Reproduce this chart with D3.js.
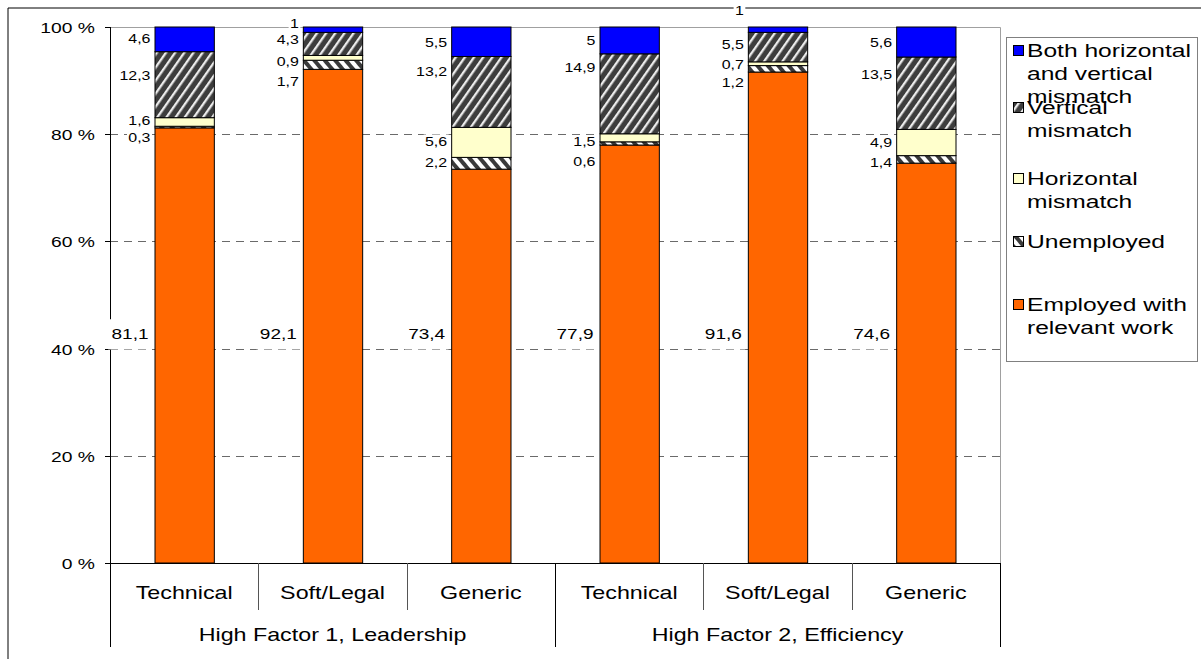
<!DOCTYPE html>
<html>
<head>
<meta charset="utf-8">
<script src="https://cdn.jsdelivr.net/npm/d3@7"></script>
<style>
  body { margin: 0; background: #fff; }
  svg { display: block; }
  text { font-family: "Liberation Sans", Arial, sans-serif; fill: #000; }
</style>
</head>
<body>
<svg id="chart" width="1201" height="659"></svg>
<script>
// ---- data ----
const categories = ["Technical", "Soft/Legal", "Generic", "Technical", "Soft/Legal", "Generic"];
const groups = ["High Factor 1, Leadership", "High Factor 2, Efficiency"];
const employed   = [81.1, 92.1, 73.4, 77.9, 91.6, 74.6];
const unemployed = [0.3, 1.7, 2.2, 0.6, 1.2, 1.4];
const horizontal = [1.6, 0.9, 5.6, 1.5, 0.7, 4.9];
const vertical   = [12.3, 4.3, 13.2, 14.9, 5.5, 13.5];
const both       = [4.6, 1, 5.5, 5, 1, 5.6];
const yTicks = [0, 20, 40, 60, 80, 100];

// ---- layout ----
const W = 1201, H = 659;
const plot = { left: 110, right: 1000, top: 27, bottom: 563 };
const stretch = 1.33;           // horizontal text stretch
const labelNudge = {            // vertical offsets of segment labels, px
  unemployed: [10.5, 17, 0, 18, 14, 3],
  horizontal: [-1, 4, -1, 4, 1, 0],
  vertical:   [-9, -4, -20, -26, -2, -18],
  both:       [-1, -6, 1, 0, -19, 1]
};
const bigLabelY = 334;

const series = [
  { key: "employed",   name: "Employed with relevant work", lines: ["Employed with", "relevant work"], values: employed,   fill: "#FF6600" },
  { key: "unemployed", name: "Unemployed", lines: ["Unemployed"], values: unemployed, fill: "url(#hatchUnemployed)" },
  { key: "horizontal", name: "Horizontal mismatch", lines: ["Horizontal", "mismatch"], values: horizontal, fill: "#FFFFCC" },
  { key: "vertical",   name: "Vertical mismatch", lines: ["Vertical", "mismatch"], values: vertical,   fill: "url(#hatchVertical)" },
  { key: "both",       name: "Both horizontal and vertical mismatch", lines: ["Both horizontal", "and vertical", "mismatch"], values: both, fill: "#0000FF" }
];

const rows = categories.map((c, i) => {
  const r = { idx: i };
  series.forEach(s => r[s.key] = s.values[i]);
  return r;
});

const svg = d3.select("#chart");

// patterns
const defs = svg.append("defs");
const pv = defs.append("pattern").attr("id", "hatchVertical")
  .attr("patternUnits", "userSpaceOnUse").attr("width", 7.5).attr("height", 7.5)
  .attr("patternTransform", "rotate(35)");
pv.append("rect").attr("width", 7.5).attr("height", 7.5).attr("fill", "#3d3d3d");
pv.append("rect").attr("width", 2.3).attr("height", 7.5).attr("fill", "#ececec");

const pu = defs.append("pattern").attr("id", "hatchUnemployed")
  .attr("patternUnits", "userSpaceOnUse").attr("width", 8).attr("height", 8)
  .attr("patternTransform", "rotate(-40)");
pu.append("rect").attr("width", 8).attr("height", 8).attr("fill", "#ffffff");
pu.append("rect").attr("width", 4).attr("height", 8).attr("fill", "#3a3a3a");

// stretched text helper
function sText(parent, x, y, str, size, anchor, box) {
  const g = parent.append("g").attr("transform", `translate(${x},${y}) scale(${stretch},1)`);
  const t = g.append("text").attr("x", 0).attr("y", 0).attr("dy", "0.35em")
    .attr("font-size", size).attr("text-anchor", anchor || "start").text(str);
  if (box) {
    const b = t.node().getBBox();
    g.insert("rect", "text").attr("x", b.x - box[0]).attr("y", b.y - box[1])
      .attr("width", b.width + 2 * box[0]).attr("height", b.height + 2 * box[1])
      .attr("fill", "#fff");
  }
  return g;
}

// outer frame
svg.append("line").attr("x1", 8).attr("x2", 8).attr("y1", 8).attr("y2", H).attr("stroke", "#000");
svg.append("line").attr("x1", 8).attr("x2", W).attr("y1", 8).attr("y2", 8).attr("stroke", "#000");

// scales
const y = d3.scaleLinear().domain([0, 1]).range([plot.bottom, plot.top]);
const xCat = d3.scaleBand().domain(d3.range(categories.length)).range([plot.left, plot.right]);
const xBar = d3.scaleBand().domain(d3.range(categories.length)).range([plot.left, plot.right])
  .paddingInner(0.6).paddingOuter(0.3);
const xGroup = d3.scaleBand().domain(groups).range([plot.left, plot.right]);

// plot border (top, right)
svg.append("path")
  .attr("d", `M${plot.left},${plot.top + 0.5}H${plot.right + 0.5}V${plot.bottom}`)
  .attr("fill", "none").attr("stroke", "#a0a0a0");

// gridlines
svg.append("g").selectAll("line")
  .data(yTicks.filter(t => t > 0 && t < 100))
  .join("line")
  .attr("x1", plot.left).attr("x2", plot.right)
  .attr("y1", d => Math.round(y(d / 100)) + 0.5).attr("y2", d => Math.round(y(d / 100)) + 0.5)
  .attr("stroke", "#6a6a6a").attr("stroke-dasharray", "8,6");

// stacked bars (100% stacked)
const stack = d3.stack().keys(series.map(s => s.key)).offset(d3.stackOffsetExpand);
const stacked = stack(rows);

const barsG = svg.append("g");
stacked.forEach((layer, li) => {
  barsG.append("g").selectAll("rect")
    .data(layer)
    .join("rect")
    .attr("x", (d, i) => xBar(i) + 0.5)
    .attr("width", xBar.bandwidth())
    .attr("y", d => y(d[1]))
    .attr("height", d => y(d[0]) - y(d[1]))
    .attr("fill", series[li].fill)
    .attr("stroke", "#000").attr("stroke-width", 1);
});

// y axis
svg.append("line").attr("x1", plot.left + 0.5).attr("x2", plot.left + 0.5)
  .attr("y1", plot.top).attr("y2", plot.bottom).attr("stroke", "#000");
yTicks.forEach(t => {
  const yy = Math.round(y(t / 100)) + 0.5;
  svg.append("line").attr("x1", plot.left - 5).attr("x2", plot.left).attr("y1", yy).attr("y2", yy).attr("stroke", "#000");
  sText(svg, plot.left - 15, yy, `${t} %`, 14.5, "end");
});

// segment labels
const labelsG = svg.append("g");
stacked.forEach((layer, li) => {
  const s = series[li];
  layer.forEach((d, i) => {
    const xr = xBar(i) - 4;
    const val = s.values[i];
    const txt = String(val).replace(".", ",");
    if (s.key === "employed") {
      sText(labelsG, xr - 2, bigLabelY, txt, 14.3, "end", [2.5, 7]);
    } else {
      const cy = (y(d[0]) + y(d[1])) / 2 + labelNudge[s.key][i];
      sText(labelsG, xr, cy, txt, 12, "end", [1, 0]);
    }
  });
});

// x axis: baseline, category and group separators
svg.append("line").attr("x1", plot.left).attr("x2", plot.right + 0.5)
  .attr("y1", plot.bottom + 0.5).attr("y2", plot.bottom + 0.5).attr("stroke", "#000");
const catEdges = d3.range(categories.length + 1).map(i => plot.left + i * xCat.step());
catEdges.forEach((ex, i) => {
  const isGroupEdge = i % 3 === 0;
  svg.append("line")
    .attr("x1", Math.round(ex) + 0.5).attr("x2", Math.round(ex) + 0.5)
    .attr("y1", plot.bottom).attr("y2", isGroupEdge ? 647 : 610)
    .attr("stroke", isGroupEdge ? "#000" : "#555");
});
categories.forEach((c, i) => {
  sText(svg, xCat(i) + xCat.bandwidth() / 2, 593, c, 17.5, "middle");
});
groups.forEach(g => {
  sText(svg, xGroup(g) + xGroup.bandwidth() / 2, 635, g, 17.5, "middle");
});

// legend
const legend = svg.append("g");
legend.append("rect").attr("x", 1006.5).attr("y", 37.5).attr("width", 191).attr("height", 324)
  .attr("fill", "#fff").attr("stroke", "#808080");
const legendOrder = ["both", "vertical", "horizontal", "unemployed", "employed"];
const legendTop = [51, 108, 179, 242, 305];
const lineH = 23;
legendOrder.forEach((k, j) => {
  const s = series.find(d => d.key === k);
  legend.append("rect").attr("x", 1013.5).attr("y", legendTop[j] - 5.5)
    .attr("width", 10).attr("height", 10)
    .attr("fill", s.fill).attr("stroke", "#000");
  s.lines.forEach((ln, m) => {
    sText(legend, 1027, legendTop[j] + m * lineH, ln, 18.5, "start");
  });
});
</script>
</body>
</html>
